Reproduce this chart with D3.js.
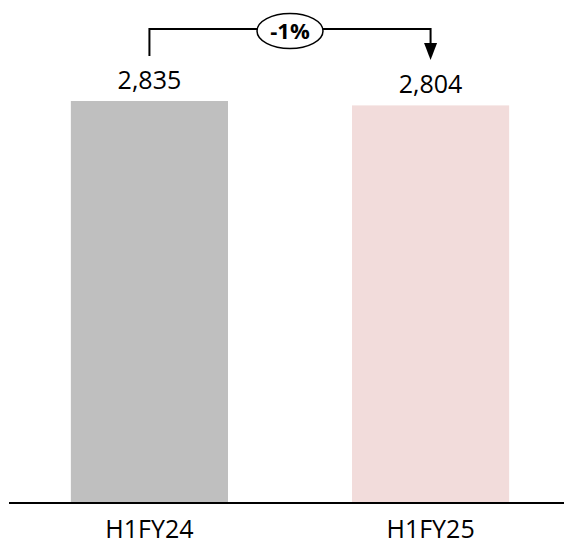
<!DOCTYPE html>
<html>
<head>
<meta charset="utf-8">
<script src="https://cdn.jsdelivr.net/npm/d3@7"></script>
<style>
  html, body { margin: 0; padding: 0; background: #fff; }
  svg { display: block; }
</style>
</head>
<body>
<svg id="chart" width="564" height="546"></svg>
<script>
const categories = ["H1FY24", "H1FY25"];
const values = [2835, 2804];
const valueLabels = ["2,835", "2,804"];
const changeLabel = "-1%";
const colors = ["#BFBFBF", "#F2DCDB"];

const svg = d3.select("#chart");
const baseY = 503;

const x = d3.scaleBand()
  .domain(categories)
  .range([9, 571])
  .paddingInner(0.441)
  .paddingOuter(0.22);

const y = d3.scaleLinear()
  .domain([0, 3000])
  .range([baseY, baseY - 3000 * 0.1418]);

// bars
svg.selectAll("rect.bar")
  .data(values)
  .join("rect")
  .attr("class", "bar")
  .attr("x", (d, i) => x(categories[i]))
  .attr("y", d => y(d))
  .attr("width", x.bandwidth())
  .attr("height", d => y(0) - y(d))
  .attr("fill", (d, i) => colors[i]);

// value labels
svg.selectAll("text.val")
  .data(values)
  .join("text")
  .attr("class", "val")
  .attr("x", (d, i) => x(categories[i]) + x.bandwidth() / 2)
  .attr("y", d => y(d) - 12)
  .attr("text-anchor", "middle")
  .attr("font-family", "'Open Sans', sans-serif")
  .attr("font-size", 25)
  .attr("fill", "#000")
  .text((d, i) => valueLabels[i]);

// baseline axis
const axis = d3.axisBottom(x).tickSize(0).tickPadding(0);
const gAxis = svg.append("g")
  .attr("transform", `translate(0,${baseY})`)
  .call(axis);
gAxis.select(".domain").remove();
gAxis.selectAll("text")
  .attr("font-family", "'Open Sans', sans-serif")
  .attr("font-size", 25)
  .attr("fill", "#000")
  .attr("dy", null)
  .attr("y", 35);
svg.append("line")
  .attr("x1", 9).attr("x2", 564)
  .attr("y1", baseY).attr("y2", baseY)
  .attr("stroke", "#000").attr("stroke-width", 1.8);

// change bracket
const cx1 = x(categories[0]) + x.bandwidth() / 2;
const cx2 = x(categories[1]) + x.bandwidth() / 2;
const topY = 29;
svg.append("path")
  .attr("d", `M${cx1},56 L${cx1},${topY} L${cx2},${topY} L${cx2},45`)
  .attr("fill", "none")
  .attr("stroke", "#000")
  .attr("stroke-width", 2);
svg.append("path")
  .attr("d", `M${cx2 - 6.5},43 L${cx2 + 6.5},43 L${cx2},60 Z`)
  .attr("fill", "#000");

const mx = (cx1 + cx2) / 2;
svg.append("ellipse")
  .attr("cx", mx).attr("cy", 31)
  .attr("rx", 33).attr("ry", 17.5)
  .attr("fill", "#fff")
  .attr("stroke", "#000")
  .attr("stroke-width", 1.5);
svg.append("text")
  .attr("x", mx).attr("y", 38.5)
  .attr("text-anchor", "middle")
  .attr("font-family", "'Open Sans', sans-serif")
  .attr("font-weight", "bold")
  .attr("font-size", 22)
  .attr("fill", "#000")
  .text(changeLabel);
</script>
</body>
</html>
